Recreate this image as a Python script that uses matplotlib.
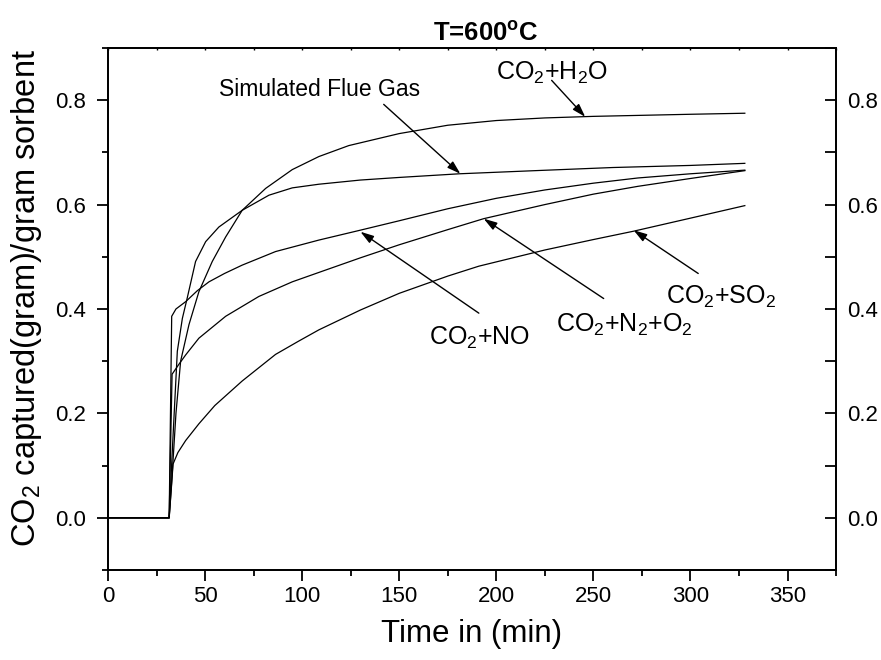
import matplotlib
matplotlib.use("Agg")
import matplotlib.pyplot as plt
from matplotlib.ticker import MultipleLocator

plt.rcParams['font.family'] = ['Liberation Sans', 'DejaVu Sans']
plt.rcParams['mathtext.fontset'] = 'custom'
plt.rcParams['mathtext.rm'] = 'Liberation Sans'
plt.rcParams['mathtext.it'] = 'Liberation Sans:italic'
plt.rcParams['mathtext.bf'] = 'Liberation Sans:bold'

# data (time in min, CO2 uptake g/g)
t_h2o = [0, 31.5, 33, 35, 37.4, 41.7, 46.8, 53.7, 60.6, 69.1, 81.2, 94.9, 108.6, 124, 150, 175, 200, 225, 250, 300, 328]
y_h2o = [0, 0, 0.08, 0.20, 0.30, 0.37, 0.433, 0.491, 0.538, 0.589, 0.631, 0.667, 0.692, 0.713, 0.736, 0.752, 0.761, 0.766, 0.769, 0.773, 0.775]

t_flue = [0, 31.5, 33, 35.7, 38.3, 40.8, 45.1, 50.3, 57.1, 69.1, 82.9, 94.9, 108.6, 130, 150, 181, 220, 260, 300, 328]
y_flue = [0, 0, 0.12, 0.319, 0.382, 0.421, 0.491, 0.529, 0.557, 0.589, 0.618, 0.632, 0.639, 0.647, 0.652, 0.659, 0.665, 0.671, 0.675, 0.679]

t_no = [0, 31.5, 32.8, 35, 40, 46, 52, 60, 69.1, 86.3, 108.6, 130, 150, 175, 200, 225, 250, 273, 300, 328]
y_no = [0, 0, 0.386, 0.40, 0.414, 0.435, 0.452, 0.468, 0.484, 0.51, 0.532, 0.551, 0.569, 0.592, 0.612, 0.628, 0.641, 0.651, 0.659, 0.666]

t_n2o2 = [0, 31.5, 32.3, 33, 36.5, 40, 46.8, 60.6, 77.7, 94.9, 108.6, 130, 150, 175, 193.5, 225, 250, 273, 300, 328]
y_n2o2 = [0, 0, 0.15, 0.275, 0.294, 0.312, 0.344, 0.386, 0.424, 0.452, 0.470, 0.498, 0.523, 0.552, 0.573, 0.600, 0.620, 0.635, 0.650, 0.665]

t_so2 = [0, 31.5, 32.5, 33.5, 36, 40, 46.8, 55, 69.1, 86.3, 98, 108.6, 130, 150, 175, 191, 225, 250, 270.7, 300, 328]
y_so2 = [0, 0, 0.05, 0.103, 0.125, 0.148, 0.18, 0.215, 0.262, 0.313, 0.338, 0.36, 0.398, 0.43, 0.463, 0.482, 0.513, 0.533, 0.549, 0.574, 0.598]

# annotation labels: (text, size, text x, text baseline y, arrow tail, arrow tip)
labels = [
    ("Simulated Flue Gas", 16.5, 57, 0.808, (142, 0.792), (181.5, 0.659)),
    ("CO$_2$+H$_2$O", 18, 199.7, 0.840, (228.5, 0.838), (245.8, 0.768)),
    ("CO$_2$+NO", 18, 165.2, 0.332, (191, 0.392), (130, 0.548)),
    ("CO$_2$+N$_2$+O$_2$", 18, 230.6, 0.357, (255.3, 0.42), (193.5, 0.573)),
    ("CO$_2$+SO$_2$", 18, 287.2, 0.41, (304, 0.468), (270.7, 0.551)),
]

fig = plt.figure(figsize=(8.81, 6.6), dpi=100)
ax = fig.add_axes([0.1226, 0.1364, 0.949 - 0.1226, 0.9273 - 0.1364])

for t, y in [(t_h2o, y_h2o), (t_flue, y_flue), (t_no, y_no), (t_n2o2, y_n2o2), (t_so2, y_so2)]:
    ax.plot(t, y, color='black', lw=0.9)

for txt, fs, tx, ty, tail, tip in labels:
    ax.text(tx, ty, txt, fontsize=fs, ha='left', va='baseline')
    ax.annotate("", xy=tip, xytext=tail,
                arrowprops=dict(arrowstyle='-|>,head_length=0.8,head_width=0.25',
                                color='black', lw=1.0, shrinkA=0, shrinkB=0))

ax.set_xlim(0, 375)
ax.set_ylim(-0.1, 0.9)
ax.xaxis.set_major_locator(MultipleLocator(50))
ax.xaxis.set_minor_locator(MultipleLocator(25))
ax.yaxis.set_minor_locator(MultipleLocator(0.1))
ax.set_yticks([0.0, 0.2, 0.4, 0.6, 0.8])
ax.set_yticklabels(['0.0', '0.2', '0.4', '0.6', '0.8'])

for s in ax.spines.values():
    s.set_linewidth(1.3)

ax.tick_params(axis='both', which='major', direction='out', length=8, width=1.3, labelsize=16)
ax.tick_params(axis='both', which='minor', direction='out', length=4.5, width=1.3)
ax.tick_params(axis='y', which='major', pad=8)
ax.tick_params(axis='x', which='both', top=False)

# tiny inward ticks on the top spine
secx = ax.secondary_xaxis('top')
secx.xaxis.set_major_locator(MultipleLocator(25))
secx.tick_params(direction='in', length=1.5, width=1, labeltop=False)
secx.spines['top'].set_visible(False)

ax2 = ax.twinx()
ax2.set_ylim(-0.1, 0.9)
ax2.set_yticks([0.0, 0.2, 0.4, 0.6, 0.8])
ax2.set_yticklabels(['0.0', '0.2', '0.4', '0.6', '0.8'])
ax2.yaxis.set_minor_locator(MultipleLocator(0.1))
ax2.tick_params(axis='y', which='both', direction='in', length=8, width=1.3, labelsize=16, pad=8)
for s in ax2.spines.values():
    s.set_linewidth(1.3)

ax.set_xlabel("Time in (min)", fontsize=22.5, labelpad=9)
ax.set_ylabel("CO$_2$ captured(gram)/gram sorbent", fontsize=23.5)
ax.yaxis.set_label_coords(-0.088, 0.521)
ax.set_title("T=600$^\\mathbf{o}$C", fontsize=18.5, fontweight='bold', pad=5, x=0.519)

fig.savefig("out.png", dpi=100)
